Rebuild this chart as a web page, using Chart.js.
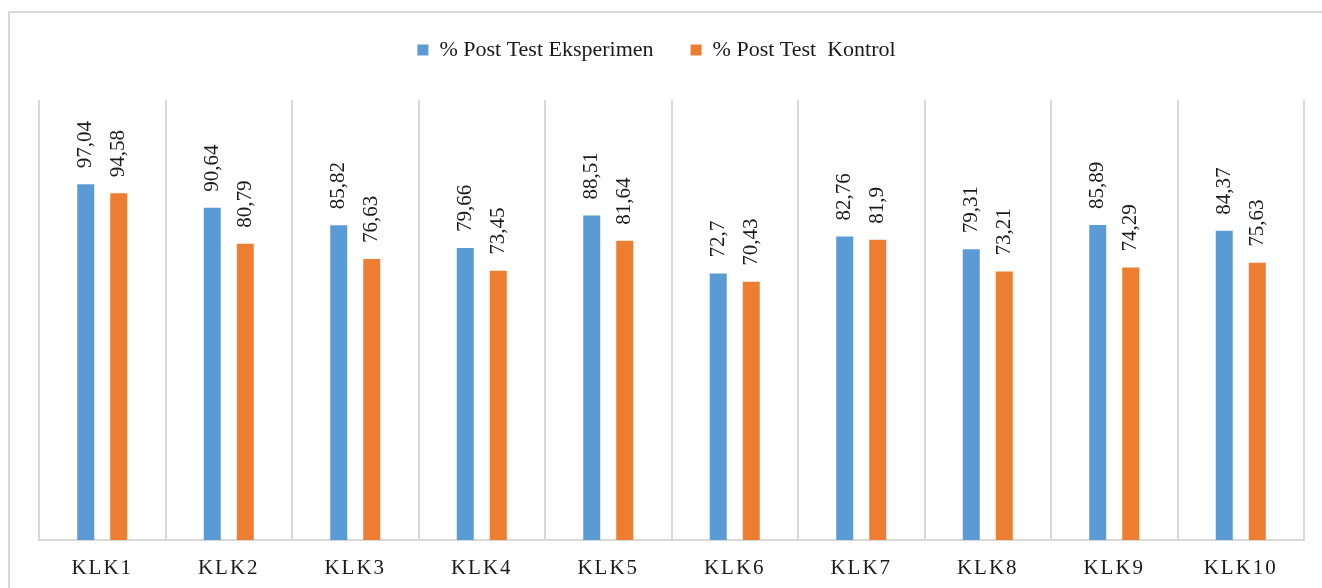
<!DOCTYPE html>
<html>
<head>
<meta charset="utf-8">
<script src="https://cdn.jsdelivr.net/npm/chart.js@4"></script>
<style>
  html, body { margin: 0; padding: 0; background: #fff; }
  #wrap { position: relative; width: 1322px; height: 588px; overflow: hidden; }
  #marco { position: absolute; left: 8px; top: 11px; width: 1330px; height: 620px; border: 2px solid #d9d9d9; box-sizing: border-box; }
  canvas { position: absolute; left: 0; top: 0; }
</style>
</head>
<body>
<div id="wrap">
  <div id="marco"></div>
  <canvas id="graficoPostTest" width="1322" height="588"></canvas>
</div>
<script>
// Datos
const kelompok = ['KLK1', 'KLK2', 'KLK3', 'KLK4', 'KLK5', 'KLK6', 'KLK7', 'KLK8', 'KLK9', 'KLK10'];
const eksperimen = [97.04, 90.64, 85.82, 79.66, 88.51, 72.7, 82.76, 79.31, 85.89, 84.37];
const kontrol = [94.58, 80.79, 76.63, 73.45, 81.64, 70.43, 81.9, 73.21, 74.29, 75.63];

const fuente = "'Times New Roman', 'Liberation Serif', serif";

// Etiquetas de valor giradas encima de cada barra
const etiquetasValor = {
    id: 'etiquetasValor',
    beforeLayout(chart) {
        const lg = chart.legend;
        if (lg && !lg._parcheado) {
            const fitOriginal = lg.fit;
            lg.fit = function () {
                fitOriginal.call(this);
                this.height += 29;
            };
            lg._parcheado = true;
        }
    },
    afterLayout(chart) {
        if (chart.legend) chart.legend.left -= 30;
    },
    afterDatasetsDraw(chart) {
        const ctx = chart.ctx;
        ctx.save();
        ctx.font = '21px ' + fuente;
        ctx.fillStyle = '#1a1a1a';
        ctx.textAlign = 'left';
        ctx.textBaseline = 'middle';
        chart.data.datasets.forEach((ds, i) => {
            const meta = chart.getDatasetMeta(i);
            meta.data.forEach((bar, j) => {
                const texto = String(ds.data[j]).replace('.', ',');
                ctx.save();
                ctx.translate(bar.x, bar.y - 16);
                ctx.rotate(-Math.PI / 2);
                ctx.fillText(texto, 0, 0);
                ctx.restore();
            });
        });
        ctx.restore();
        // espaciado de letras para las etiquetas del eje x
        ctx.letterSpacing = '2px';
    },
    afterDraw(chart) {
        chart.ctx.letterSpacing = '0px';
    }
};

new Chart(document.getElementById('graficoPostTest'), {
    type: 'bar',
    data: {
        labels: kelompok,
        datasets: [{
            label: '% Post Test Eksperimen',
            data: eksperimen,
            backgroundColor: '#5b9bd5',
            categoryPercentage: 0.522,
            barPercentage: 0.515
        }, {
            label: '% Post Test  Kontrol',
            data: kontrol,
            backgroundColor: '#ed7d31',
            categoryPercentage: 0.522,
            barPercentage: 0.515
        }]
    },
    options: {
        responsive: false,
        animation: false,
        layout: { padding: { left: 39, right: 18, top: 2, bottom: 0 } },
        plugins: {
            legend: {
                position: 'top',
                labels: {
                    boxWidth: 11,
                    boxHeight: 11,
                    padding: 37,
                    color: '#1a1a1a',
                    font: { family: fuente, size: 22 }
                }
            },
            tooltip: { enabled: false }
        },
        scales: {
            x: {
                offset: true,
                grid: { offset: true, color: '#d9d9d9', lineWidth: 2, drawTicks: false },
                border: { display: true, color: '#d9d9d9', width: 2 },
                ticks: {
                    z: 1,
                    padding: 16,
                    color: '#1a1a1a',
                    font: { family: fuente, size: 21 }
                },
                afterFit(scale) { scale.height = 48; }
            },
            y: {
                display: false,
                min: 0,
                max: 120
            }
        }
    },
    plugins: [etiquetasValor]
});
</script>
</body>
</html>
